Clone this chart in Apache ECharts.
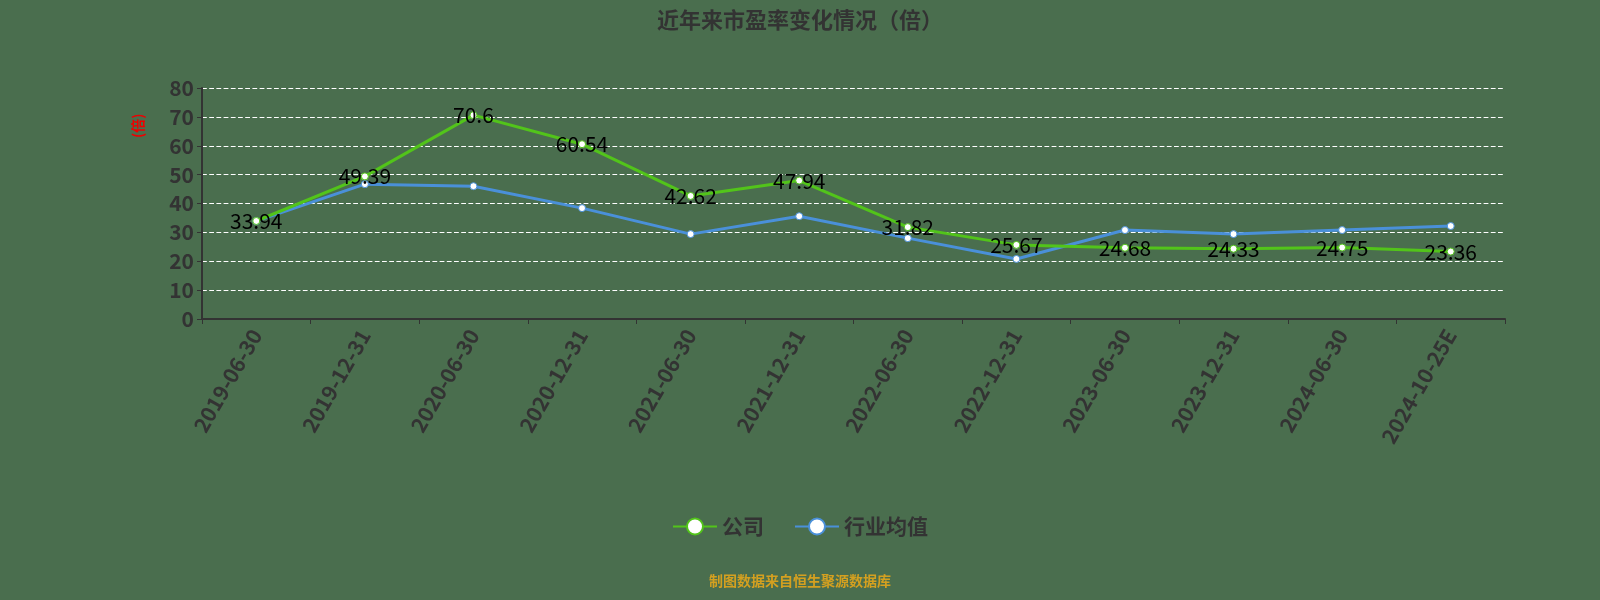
<!DOCTYPE html>
<html><head><meta charset="utf-8">
<script src="https://cdn.jsdelivr.net/npm/echarts@6/dist/echarts.min.js"></script>
<style>html,body{margin:0;padding:0;background:#4a6e4e}#main{width:1600px;height:600px}</style>
</head><body><div id="main"></div>
<script>
var dates = ['2019-06-30','2019-12-31','2020-06-30','2020-12-31','2021-06-30','2021-12-31','2022-06-30','2022-12-31','2023-06-30','2023-12-31','2024-06-30','2024-10-25E'];
var company = [33.94,49.39,70.6,60.54,42.62,47.94,31.82,25.67,24.68,24.33,24.75,23.36];
var industry = [33.9,46.7,46.0,38.4,29.4,35.6,28.0,20.8,30.8,29.4,30.8,32.2];

var font = '"Noto Sans CJK SC", sans-serif';
var chart = echarts.init(document.getElementById('main'));
chart.setOption({
    backgroundColor: '#4a6e4e',
    textStyle: { fontFamily: font },
    title: { text: '近年来市盈率变化情况（倍）', left: 'center', top: 4,
        textStyle: { color: '#333', fontSize: 22, fontWeight: 'bold', fontFamily: font } },
    grid: { left: 202, right: 95, top: 88, bottom: 281 },
    legend: { bottom: 58, itemWidth: 44, itemHeight: 20, itemGap: 30,
        textStyle: { color: '#333', fontSize: 21, fontWeight: 'bold' },
        data: ['公司', '行业均值'] },
    graphic: [
        { type: 'text', left: 'center', bottom: 12,
          style: { text: '制图数据来自恒生聚源数据库', fill: '#d4a020', font: 'bold 14px ' + font } },
        { type: 'text', x: 131, y: 138, rotation: Math.PI / 2,
          style: { text: '(倍)', fill: '#e00', font: 'bold 14px ' + font } }
    ],
    xAxis: { type: 'category', data: dates, boundaryGap: true,
        axisLine: { lineStyle: { color: '#333', width: 2 } },
        axisTick: { show: true, lineStyle: { color: '#333' } },
        axisLabel: { rotate: 60, color: '#333', fontSize: 21, fontWeight: 'bold', interval: 0, margin: 12 } },
    yAxis: { type: 'value', min: 0, max: 80, interval: 10,
        axisLine: { show: true, lineStyle: { color: '#333', width: 2 } },
        axisTick: { show: true, lineStyle: { color: '#333' } },
        axisLabel: { color: '#333', fontSize: 21, fontWeight: 'bold' },
        splitLine: { lineStyle: { color: '#fff', type: 'dashed', width: 1.2 } } },
    series: [
        { name: '公司', type: 'line', data: company, symbol: 'circle', symbolSize: 7,
          lineStyle: { color: '#52c41a', width: 3 },
          itemStyle: { color: '#fff', borderColor: '#52c41a', borderWidth: 1 },
          label: { show: true, position: 'inside', color: '#000', fontSize: 21 }, z: 3 },
        { name: '行业均值', type: 'line', data: industry, symbol: 'circle', symbolSize: 7,
          lineStyle: { color: '#4a90d9', width: 3 },
          itemStyle: { color: '#fff', borderColor: '#4a90d9', borderWidth: 1 }, z: 2 }
    ]
});
</script></body></html>
